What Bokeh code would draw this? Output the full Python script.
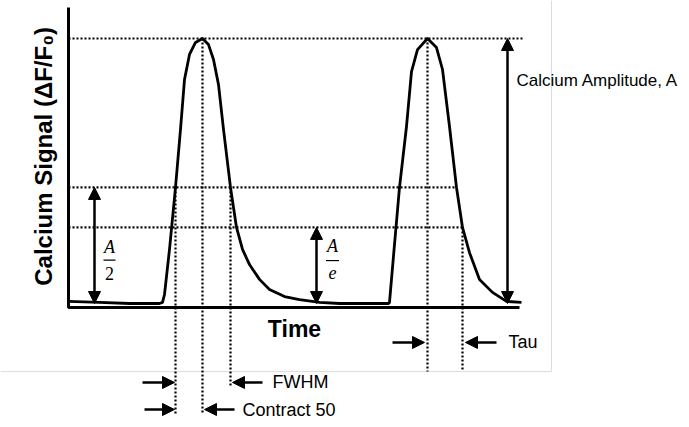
import math
from bokeh.plotting import figure
from bokeh.models import Range1d, Arrow, NormalHead, Label, ColumnDataSource
from bokeh.embed import file_html
from bokeh.resources import INLINE

# ---- data (time in arbitrary units, signal normalised so amplitude A = 1) ----
time = [0.00, 0.31, 0.61, 0.91, 0.94, 0.96, 1.01, 1.07, 1.12, 1.16, 1.21, 1.27, 1.34,
        1.40, 1.45, 1.50, 1.55, 1.62, 1.68, 1.74, 1.81, 1.91, 2.01, 2.16, 2.31, 2.51,
        2.71, 2.91, 3.20, 3.21, 3.26, 3.31, 3.38, 3.43, 3.49, 3.59, 3.68, 3.74, 3.81,
        3.88, 3.94, 4.01, 4.11, 4.24, 4.38, 4.53]
signal = [0.008, 0.004, 0.000, 0.000, 0.004, 0.034, 0.204, 0.438, 0.657, 0.845, 0.940,
          0.985, 1.000, 0.977, 0.921, 0.826, 0.657, 0.438, 0.287, 0.204, 0.147, 0.091,
          0.053, 0.026, 0.015, 0.004, 0.000, 0.000, 0.000, 0.004, 0.223, 0.438, 0.668,
          0.875, 0.958, 1.000, 0.966, 0.883, 0.668, 0.438, 0.287, 0.192, 0.091, 0.042,
          0.008, 0.004]

amplitude = 1.0
half_level = 0.438      # A/2 level as drawn
e_level = 0.287         # A/e level as drawn
rise50_1 = 1.07
peak1 = 1.34
decay50_1 = 1.62
peak2 = 3.59
decay_e2 = 3.94
t_axis_end = 4.51
s_axis = -0.015
s_axis_top = 1.117

W, H = 680, 418
XR = (-0.68, -0.68 + W / 100)
YR = ((303 - H) / 265, 303 / 265)

p = figure(width=W, height=H, output_backend="svg", toolbar_location=None,
           x_range=Range1d(*XR), y_range=Range1d(*YR),
           x_axis_type=None, y_axis_type=None, min_border=0)
p.outline_line_color = None
p.xgrid.visible = False
p.ygrid.visible = False
p.background_fill_color = "white"
p.border_fill_color = "white"

# faint frame lines of the original image
p.segment(x0=[4.83, XR[0]], y0=[YR[1], -0.257], x1=[4.83, 4.83], y1=[-0.257, -0.257],
          line_color="#dcdcdc", line_width=1)

# dotted guide lines
dot = dict(line_color="black", line_width=2.2, line_dash="2 2")
p.segment(x0=[0, 0, 0], y0=[amplitude, half_level, e_level],
          x1=[4.54, decay50_1 + 2.26, decay_e2 + 0.02], y1=[amplitude, half_level, e_level], **dot)
p.segment(x0=[rise50_1, peak1, decay50_1, peak2, decay_e2],
          y0=[half_level, amplitude, half_level, amplitude, e_level],
          x1=[rise50_1, peak1, decay50_1, peak2, decay_e2],
          y1=[-0.415, -0.415, -0.309, -0.257, -0.257], **dot)

# axes
p.line(x=[0, 0, t_axis_end], y=[s_axis_top, s_axis, s_axis], line_color="black", line_width=3)

# trace
src = ColumnDataSource(dict(t=time, s=signal))
p.line(x="t", y="s", source=src, line_color="black", line_width=2.8, line_join="round")

def head():
    return NormalHead(size=12, fill_color="black", line_color="black", line_width=1)

def arrow(x0, y0, x1, y1, both=False):
    p.add_layout(Arrow(start=head() if both else None, end=head(),
                       x_start=x0, y_start=y0, x_end=x1, y_end=y1,
                       line_color="black", line_width=2.5))

# vertical double arrows
arrow(0.26, 0.0, 0.26, half_level, both=True)
arrow(2.48, 0.0, 2.48, e_level, both=True)
arrow(4.39, 0.0, 4.39, amplitude, both=True)

# horizontal interval arrows
arrow(0.74, -0.298, 1.06, -0.298)
arrow(1.94, -0.298, 1.64, -0.298)
arrow(0.76, -0.400, 1.06, -0.400)
arrow(1.66, -0.400, 1.36, -0.400)
arrow(3.24, -0.147, 3.56, -0.147)
arrow(4.28, -0.147, 3.97, -0.147)

sans = "Liberation Sans"
def lab(x, y, text, size, align="left", baseline="middle", style="normal", font=sans, angle=0.0):
    p.add_layout(Label(x=x, y=y, text=text, text_font=font, text_font_size=size,
                       text_font_style=style, text_align=align, text_baseline=baseline,
                       text_color="black", angle=angle))

lab(4.48, 0.842, "Calcium Amplitude, A", "17px")
lab(2.04, -0.298, "FWHM", "18px")
lab(1.74, -0.400, "Contract 50", "18px")
lab(4.40, -0.147, "Tau", "18px")
lab(2.26, -0.098, "Time", "23px", align="center", style="bold")
lab(-0.25, 0.555, "Calcium Signal (\u0394F/F\u2080)", "24px", align="center", style="bold",
    angle=math.pi / 2)

# fractions A/2 and A/e
serif = "Liberation Serif"
lab(0.41, 0.212, "A", "18px", align="center", style="italic", font=serif)
lab(0.41, 0.114, "2", "18px", align="center", font=serif)
lab(2.64, 0.216, "A", "18px", align="center", style="italic", font=serif)
lab(2.64, 0.118, "e", "18px", align="center", style="italic", font=serif)
p.segment(x0=[0.35, 2.575], y0=[0.164, 0.162], x1=[0.47, 2.705], y1=[0.164, 0.162],
          line_color="black", line_width=1.2)

open("out.html", "w").write(file_html(p, INLINE))
